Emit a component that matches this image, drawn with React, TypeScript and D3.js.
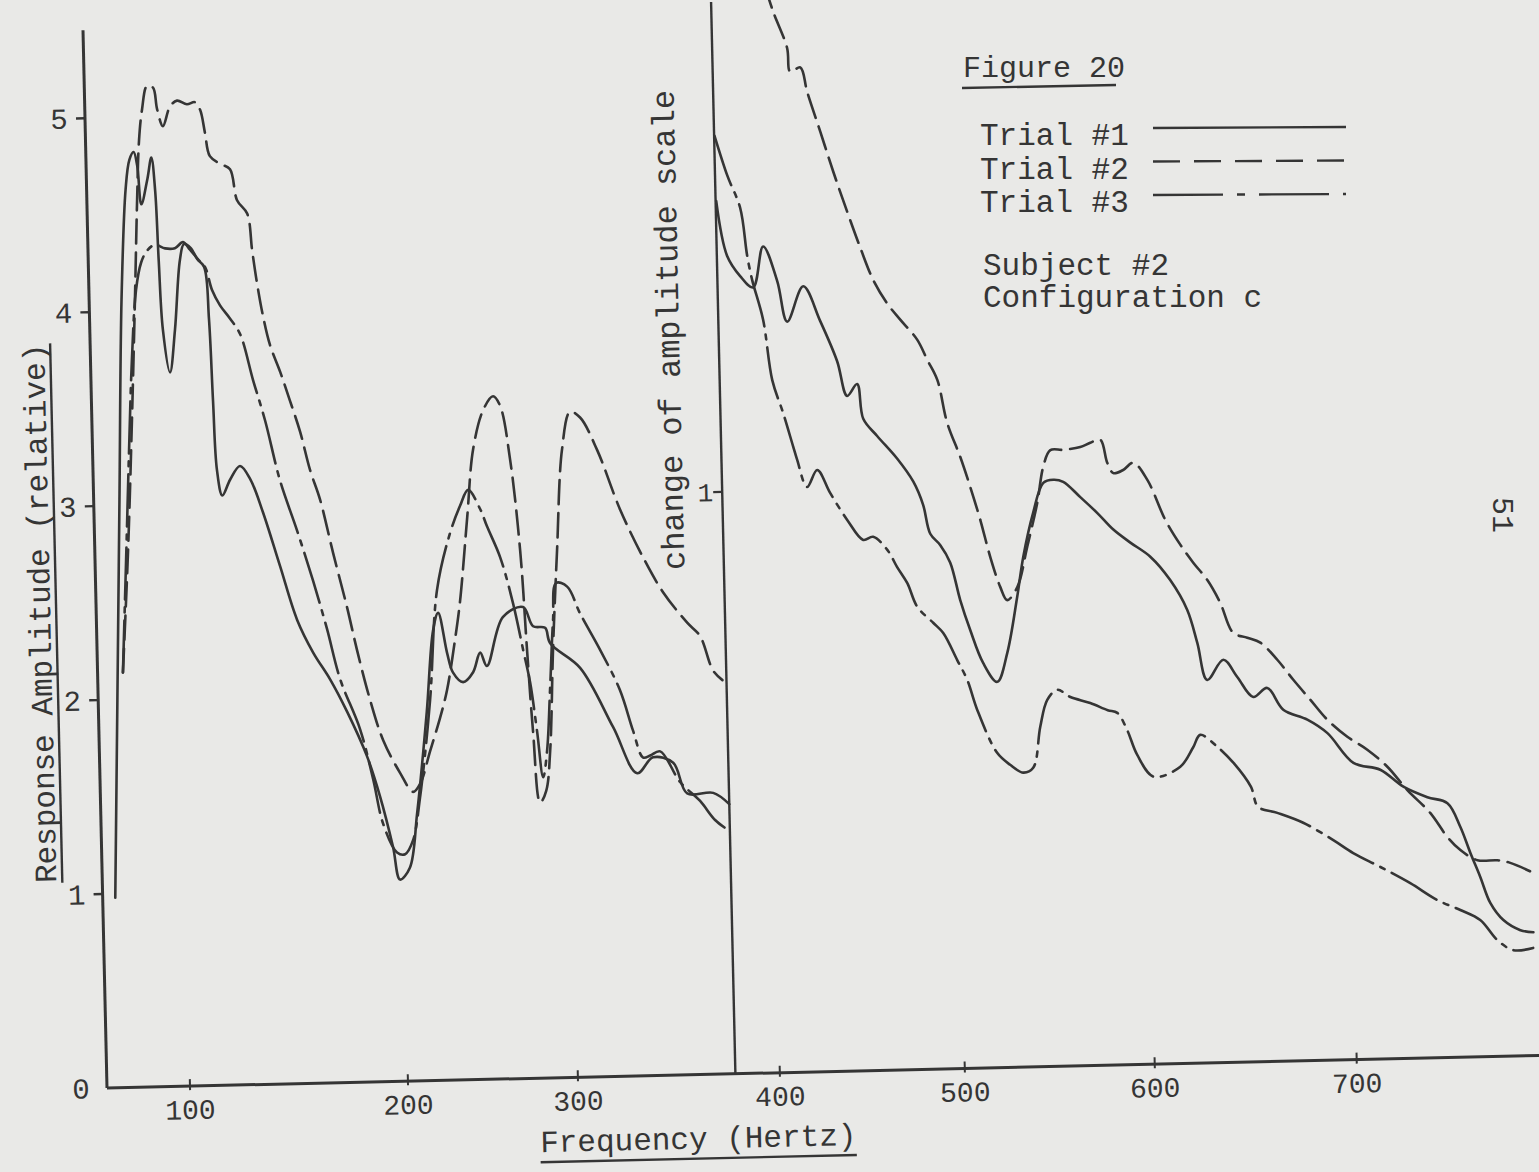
import React, { useEffect, useRef } from "react";
import * as d3 from "d3";

// [frequency Hz, relative amplitude] - left part, amplitude axis 0..5
const trial1Left: [number, number][] = [
  [68, 0.98], [71, 2.0], [74, 3.03], [77, 4.06], [80, 4.63], [82, 4.78], [84, 4.82], [85.5, 4.75],
  [87, 4.55], [90, 4.68], [92, 4.79], [93.4, 4.62], [94.3, 4.26], [95.5, 3.9], [98.3, 3.68], [101, 3.9],
  [104, 4.26], [106, 4.34], [109, 4.32], [112, 4.26], [115, 4.22], [116.7, 3.95], [117.7, 3.53], [118.8, 3.17],
  [121, 3.04], [124.7, 3.12], [129.4, 3.19], [134, 3.12], [139.4, 2.95], [146.7, 2.67], [154, 2.39], [161, 2.22],
  [168.5, 2.08], [176, 1.91], [184.6, 1.68], [190.2, 1.47], [195.6, 1.21], [198.5, 1.04], [204, 1.1], [209, 1.38],
  [216, 1.9], [220.8, 2.32], [224, 2.41], [228.8, 2.2], [232, 2.1], [237.8, 2.05], [243.8, 2.1], [248.2, 2.2],
  [252, 2.13], [262, 2.38], [274, 2.43], [279.7, 2.33], [286.7, 2.32], [289.5, 2.24], [305.7, 2.11], [321.4, 1.8],
  [332.8, 1.56], [340.8, 1.64], [350.7, 1.61], [357.3, 1.45], [370.2, 1.45], [378, 1.39],
];

const trial2Left: [number, number][] = [
  [73.8, 2.14], [77.4, 2.77], [80.5, 3.44], [83.1, 4.06], [85.1, 4.57], [86.6, 4.88], [88.3, 5.04], [90.8, 5.16],
  [93.5, 5.15], [95.1, 5.04], [97.6, 4.95], [101, 5.05], [104.3, 5.08], [108.8, 5.06], [112.5, 5.07], [114.8, 5.03],
  [116.8, 4.91], [118.8, 4.79], [123.4, 4.75], [127.9, 4.72], [130.8, 4.56], [135.3, 4.49], [137.2, 4.3], [139.1, 4.13],
  [141.5, 3.96], [144.4, 3.81], [148.8, 3.67], [153, 3.52], [157.3, 3.36], [161.5, 3.16], [165.7, 3.01], [171.2, 2.73],
  [177, 2.45], [181.1, 2.23], [186.6, 1.97], [192.2, 1.76], [199.6, 1.59], [206.9, 1.49], [211.1, 1.53], [217.5, 1.7],
  [223.8, 1.87], [228.2, 2.01], [233.6, 2.27], [237.1, 2.47], [242.4, 2.9], [246.8, 3.25], [253.2, 3.45], [259.2, 3.52],
  [263.2, 3.47], [268.4, 3.19], [273.1, 2.72], [275.8, 2.21], [278.3, 1.78], [281.5, 1.42], [285.2, 1.48], [288.1, 1.69],
  [291.1, 2.21], [294.8, 2.72], [299.1, 3.24], [303.6, 3.43], [308.5, 3.4], [316.6, 3.23], [327.3, 2.92], [338.2, 2.67],
  [347.6, 2.49], [359.2, 2.33], [365.4, 2.26], [371.5, 2.08], [376, 2.03],
];

const trial3Left: [number, number][] = [
  [73.8, 2.14], [76.4, 2.72], [78.9, 3.29], [81.1, 3.75], [83.7, 4.11], [86.3, 4.25], [89.1, 4.31], [92.8, 4.34],
  [97.3, 4.32], [101.8, 4.32], [105.6, 4.35], [108.7, 4.31], [112.3, 4.26], [115.4, 4.22], [118.4, 4.1], [121.9, 4.02],
  [126.4, 3.95], [130.8, 3.87], [136.3, 3.63], [141.4, 3.42], [147.6, 3.11], [154.9, 2.85], [161.7, 2.59], [167.6, 2.34],
  [173.1, 2.08], [181.7, 1.82], [187.2, 1.56], [191.3, 1.33], [197.4, 1.18], [201.4, 1.17], [206.2, 1.24], [210.9, 1.46],
  [218.1, 1.96], [223.7, 2.53], [232.1, 2.82], [238.4, 2.96], [243.3, 3.04], [250.1, 2.94], [253.9, 2.85], [261.2, 2.69],
  [268.2, 2.45], [273.5, 2.21], [277.2, 2.04], [280.6, 1.79], [283.6, 1.55], [286.3, 1.69], [288.8, 2.0], [291.5, 2.36],
  [293.8, 2.55], [300.2, 2.53], [306.3, 2.39], [315.8, 2.2], [325.2, 1.99], [331.2, 1.78], [335.9, 1.64], [339.4, 1.65],
  [344.4, 1.67], [353.9, 1.51], [363.6, 1.41], [370.8, 1.31], [378, 1.25],
];

// right part, after the change of amplitude scale (tick "1")
const trial1Right: [number, number][] = [
  [378.3, 1.5], [383.1, 1.405], [389.3, 1.37], [395.6, 1.35], [401.1, 1.42], [408.3, 1.36], [413.2, 1.29], [422.3, 1.35],
  [431, 1.29], [439.7, 1.22], [444.7, 1.16], [450.2, 1.18], [453.1, 1.12], [460.4, 1.09], [471, 1.05], [479.4, 1.01],
  [484.4, 0.97], [487.9, 0.92], [493.2, 0.9], [498.3, 0.87], [503.2, 0.805], [508.1, 0.753], [514.5, 0.696], [521.7, 0.663],
  [527.3, 0.712], [533.2, 0.808], [536.9, 0.877], [542.6, 0.952], [548.3, 1.003], [553.6, 1.008], [558.8, 1.004], [567.6, 0.977],
  [576.4, 0.949], [584.6, 0.92], [593.4, 0.897], [603.5, 0.872], [613.1, 0.831], [621.2, 0.779], [625.8, 0.722], [630.3, 0.658],
  [638.5, 0.692], [645.2, 0.662], [652.9, 0.627], [659.9, 0.642], [667.6, 0.604], [679.4, 0.586], [689.2, 0.562], [701.7, 0.51],
  [714.7, 0.497], [725.8, 0.467], [737.4, 0.448], [747.1, 0.437], [753.1, 0.396], [757.7, 0.351], [762.3, 0.309], [766.9, 0.264],
  [773.1, 0.234], [781.3, 0.216], [787.6, 0.212],
];

const trial2Right: [number, number][] = [
  [405, 1.87], [409.4, 1.823], [416.5, 1.76], [417.9, 1.719], [423.4, 1.726], [426.8, 1.684], [433.4, 1.615], [439.9, 1.546],
  [447, 1.476], [453.6, 1.414], [460.2, 1.358], [467.5, 1.317], [474.3, 1.289], [483.2, 1.254], [488.4, 1.219], [493.6, 1.184],
  [498.4, 1.11], [504.9, 1.051], [509.8, 0.999], [514.7, 0.942], [519.5, 0.878], [524.4, 0.826], [527.9, 0.803], [533.4, 0.825],
  [539.1, 0.894], [544.9, 0.969], [548.5, 1.031], [552.4, 1.059], [559.2, 1.059], [568.2, 1.063], [573.5, 1.07], [578.8, 1.075],
  [582.2, 1.035], [585.3, 1.017], [590.5, 1.022], [595.9, 1.034], [602.9, 1.004], [611.3, 0.935], [618.4, 0.892], [624.7, 0.86],
  [631.4, 0.83], [637.6, 0.79], [643.7, 0.738], [650.6, 0.729], [657, 0.72], [665.2, 0.69], [672.9, 0.655], [681.1, 0.62],
  [689.3, 0.585], [699, 0.555], [708.6, 0.532], [718.2, 0.502], [727.7, 0.461], [738.6, 0.421], [746.7, 0.379], [752.9, 0.356],
  [761.1, 0.338], [770.8, 0.337], [777.1, 0.332], [788.2, 0.314],
];

const trial3Right: [number, number][] = [
  [378.2, 1.612], [384.1, 1.543], [390.1, 1.487], [393, 1.405], [395.2, 1.363], [400.2, 1.294], [404.4, 1.19], [409.9, 1.133],
  [414.9, 1.075], [416.9, 1.052], [421.9, 1.005], [427.6, 1.034], [434.3, 0.994], [443.2, 0.947], [451.6, 0.912], [457, 0.917],
  [464.5, 0.894], [469.6, 0.864], [474.9, 0.836], [480, 0.795], [488.4, 0.767], [493.7, 0.749], [500.9, 0.702], [506, 0.667],
  [510.8, 0.616], [520.8, 0.541], [527.5, 0.52], [534.3, 0.506], [539.6, 0.514], [543.8, 0.584], [547.8, 0.63], [553.2, 0.647],
  [560, 0.634], [570.4, 0.623], [579.5, 0.61], [584.5, 0.605], [589.5, 0.575], [594.5, 0.532], [602.7, 0.494], [616, 0.51],
  [622.6, 0.543], [626.2, 0.564], [634.5, 0.543], [642.5, 0.514], [650.7, 0.473], [654.1, 0.438], [663.5, 0.427], [676.2, 0.409],
  [690.9, 0.378], [700.6, 0.355], [713.7, 0.33], [728.1, 0.301], [741.1, 0.271], [752.2, 0.253], [761.8, 0.235], [769.9, 0.2],
  [777.6, 0.182], [787.3, 0.185],
];

const xTicks = [100, 200, 300, 400, 500, 600, 700];
const yTicksLeft = [0, 1, 2, 3, 4, 5];
const yTicksRight = [1];
const splitHz = 378;

const legendItems = ["Trial #1", "Trial #2", "Trial #3"];
const noteLines = ["Subject #2", "Configuration c"];

const App = () => {
  const svgRef = useRef<SVGSVGElement>(null);

  useEffect(() => {
    const svg = d3.select(svgRef.current);
    svg.selectAll("*").remove();

    const width = 1539;
    const height = 1172;
    const ox = 107;
    const oy = 1088;
    const ink = "#353535";
    const font = "'Liberation Mono', 'Courier New', monospace";
    const dash2 = "24 9";
    const dash3 = "52 8 5 8";

    svg.append("rect").attr("width", width).attr("height", height).attr("fill", "#e9e9e7");

    // hand drawn frequency axis, ticks are not evenly spaced
    const x = d3.scaleLinear()
      .domain([50, 100, 200, 300, 400, 500, 600, 700, 800])
      .range([80, 190, 408, 578, 780, 965, 1155, 1357, 1562]);
    const yL = d3.scaleLinear().domain([0, 5]).range([oy, 118]);
    const yR = d3.scaleLinear().domain([0, 1]).range([oy, oy - 582]);

    // the scanned page sits slightly tilted
    const g = svg.append("g").attr("transform", `rotate(-1.3, ${ox}, ${oy})`);

    const stroke = (sel: any, w = 3) => sel.attr("stroke", ink).attr("stroke-width", w).attr("fill", "none");

    // axes
    g.append("line").attr("x1", ox).attr("x2", ox).attr("y1", oy).attr("y2", 30).call(stroke);
    g.append("line").attr("x1", ox).attr("x2", width + 60).attr("y1", oy).attr("y2", oy).call(stroke);
    g.append("line").attr("x1", x(splitHz)).attr("x2", x(splitHz)).attr("y1", oy).attr("y2", 16).call(stroke, 2.4);

    // y ticks (left)
    yTicksLeft.forEach(t => {
      if (t > 0) {
        g.append("line").attr("x1", ox - 9).attr("x2", ox).attr("y1", yL(t)).attr("y2", yL(t)).call(stroke, 2.4);
      }
      g.append("text")
        .attr("x", 81).attr("y", yL(t) + 10)
        .attr("text-anchor", "middle")
        .style("font-family", font).style("font-size", "29px").attr("fill", ink)
        .text(t);
    });

    // y tick (right scale)
    yTicksRight.forEach(t => {
      g.append("line").attr("x1", x(splitHz) - 9).attr("x2", x(splitHz)).attr("y1", yR(t)).attr("y2", yR(t)).call(stroke, 2.2);
      g.append("text")
        .attr("x", x(splitHz) - 9).attr("y", yR(t) + 9)
        .attr("text-anchor", "end")
        .style("font-family", font).style("font-size", "26px").attr("fill", ink)
        .text(t);
    });

    // x ticks
    xTicks.forEach(t => {
      g.append("line").attr("x1", x(t)).attr("x2", x(t)).attr("y1", oy - 7).attr("y2", oy + 4).call(stroke, 2);
      g.append("text")
        .attr("x", x(t)).attr("y", oy + 33)
        .attr("text-anchor", "middle")
        .style("font-family", font).style("font-size", "28px").attr("fill", ink)
        .text(t);
    });

    // axis titles
    const yTitle = g.append("text")
      .attr("transform", `translate(61, 612) rotate(-90)`)
      .attr("text-anchor", "middle")
      .style("font-family", font).style("font-size", "31px").attr("fill", ink)
      .text("Response Amplitude (relative)");
    const yw = (yTitle.node() as SVGTextElement).getComputedTextLength();
    g.append("line").attr("x1", 67).attr("x2", 67).attr("y1", 612 - yw / 2).attr("y2", 612 + yw / 2).call(stroke, 2.4);

    g.append("text")
      .attr("transform", `translate(696, 343) rotate(-90)`)
      .attr("text-anchor", "middle")
      .style("font-family", font).style("font-size", "32px").attr("fill", ink)
      .text("change of amplitude scale");

    const titleX = 697;
    const xTitle = g.append("text")
      .attr("x", titleX).attr("y", oy + 74)
      .attr("text-anchor", "middle")
      .style("font-family", font).style("font-size", "31px").attr("fill", ink)
      .text("Frequency (Hertz)");
    const xw = (xTitle.node() as SVGTextElement).getComputedTextLength();
    g.append("line").attr("x1", titleX - xw / 2).attr("x2", titleX + xw / 2).attr("y1", oy + 84).attr("y2", oy + 84).call(stroke, 2.4);

    // curves
    const lineL = d3.line<[number, number]>().x(d => x(d[0])).y(d => yL(d[1])).curve(d3.curveCatmullRom.alpha(0.5));
    const lineR = d3.line<[number, number]>().x(d => x(d[0])).y(d => yR(d[1])).curve(d3.curveCatmullRom.alpha(0.5));

    const series: [[number, number][], any, string | null][] = [
      [trial1Left, lineL, null],
      [trial2Left, lineL, dash2],
      [trial3Left, lineL, dash3],
      [trial1Right, lineR, null],
      [trial2Right, lineR, dash2],
      [trial3Right, lineR, dash3],
    ];
    series.forEach(([data, gen, dash]) => {
      const p = g.append("path").attr("d", gen(data)).call(stroke, 2.6)
        .attr("stroke-linecap", "round").attr("stroke-linejoin", "round");
      if (dash) p.attr("stroke-dasharray", dash);
    });

    // legend block (typed, not tilted)
    svg.append("text")
      .attr("x", 963).attr("y", 77)
      .style("font-family", font).style("font-size", "30px").attr("fill", ink)
      .text("Figure 20");
    svg.append("line").attr("x1", 962).attr("x2", 1116).attr("y1", 88).attr("y2", 85).call(stroke, 2.4);

    const legendDash = [null, "27 14", "70 14 8 14"];
    legendItems.forEach((name, i) => {
      const by = 145 + i * 33.5;
      svg.append("text")
        .attr("x", 980).attr("y", by)
        .style("font-family", font).style("font-size", "31px").attr("fill", ink)
        .text(name);
      const l = svg.append("line").attr("x1", 1153).attr("x2", 1346).attr("y1", by - 17).attr("y2", by - 18).call(stroke, 2.4);
      if (legendDash[i]) l.attr("stroke-dasharray", legendDash[i] as string);
    });

    noteLines.forEach((t, i) => {
      svg.append("text")
        .attr("x", 983).attr("y", 275 + i * 32)
        .style("font-family", font).style("font-size", "31px").attr("fill", ink)
        .text(t);
    });

    // page number
    svg.append("text")
      .attr("transform", "translate(1493, 515) rotate(90)")
      .attr("text-anchor", "middle")
      .style("font-family", font).style("font-size", "30px").attr("fill", ink)
      .text("51");
  }, []);

  return <svg ref={svgRef} width={1539} height={1172} style={{ position: "absolute", left: 0, top: 0 }} />;
};

export default App;
